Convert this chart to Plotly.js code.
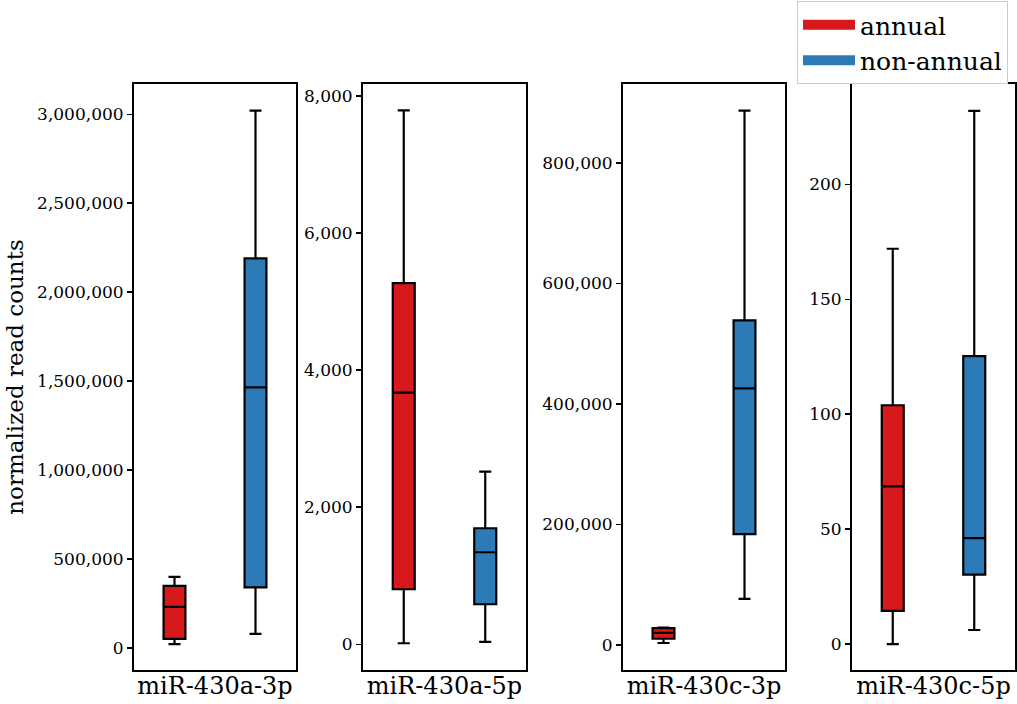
<!DOCTYPE html>
<html>
<head>
<meta charset="utf-8">
<script src="https://cdn.plot.ly/plotly-3.0.1.min.js"></script>
<style>html,body{margin:0;padding:0;background:#fff}#chart{width:1017px;height:704px}</style>
</head>
<body>
<div id="chart"></div>
<script>
// ---- data ----
const mirnas = ["miR-430a-3p", "miR-430a-5p", "miR-430c-3p", "miR-430c-5p"];
const groups = ["annual", "non-annual"];
const colors = ["#d7191c", "#2c7bb6"];

// five-number summaries per miRNA: [annual, non-annual]
const lowerWhisker = [[22000, 80000], [15, 34], [3300, 76700], [0, 6.1]];
const q1Values     = [[52000, 341000], [803, 584], [10400, 184000], [14.4, 30.2]];
const medianValues = [[232000, 1465000], [3673, 1343], [20000, 426000], [68.6, 46.1]];
const q3Values     = [[350000, 2190000], [5270, 1693], [28000, 538700], [103.9, 125.3]];
const upperWhisker = [[400000, 3020000], [7790, 2520], [29000, 886800], [172, 232]];

const yRanges = [[-123000, 3170000], [-375, 8175], [-41500, 931000], [-11.3, 243.7]];
const yDticks = [500000, 2000, 200000, 50];

// ---- layout geometry ----
const W = 1017, H = 704;
const xDomainsPx = [[134, 296], [363, 526], [623, 785], [852, 1015]];
const yDomain = [1 - 670 / H, 1 - 84 / H];
const FONT = "DejaVu Serif";

const traces = [];
mirnas.forEach((m, i) => {
  const xa = i === 0 ? "x" : "x" + (i + 1);
  const ya = i === 0 ? "y" : "y" + (i + 1);
  groups.forEach((g, j) => {
    traces.push({
      type: "box",
      name: g,
      x: [j],
      q1: [q1Values[i][j]],
      median: [medianValues[i][j]],
      q3: [q3Values[i][j]],
      lowerfence: [lowerWhisker[i][j]],
      upperfence: [upperWhisker[i][j]],
      width: 0.27,
      whiskerwidth: 0.55,
      fillcolor: colors[j],
      line: {color: "#000", width: 2.2},
      boxpoints: false,
      showlegend: false,
      hoverinfo: "skip",
      xaxis: xa,
      yaxis: ya
    });
  });
});
// legend entries
groups.forEach((g, j) => {
  traces.push({
    type: "scatter", mode: "lines", name: g,
    x: [null], y: [null],
    line: {color: colors[j], width: 12},
    showlegend: true, hoverinfo: "skip",
    xaxis: "x", yaxis: "y"
  });
});

const layout = {
  width: W, height: H,
  margin: {l: 0, r: 0, t: 0, b: 0},
  paper_bgcolor: "#fff", plot_bgcolor: "#fff",
  font: {family: FONT, color: "#000", size: 17},
  showlegend: true,
  legend: {
    x: 797 / W, y: 1 - 1 / H, xanchor: "left", yanchor: "top",
    bordercolor: "#cccccc", borderwidth: 1,
    font: {family: FONT, size: 25, color: "#000"},
    itemwidth: 52, tracegroupgap: 0
  }
};

mirnas.forEach((m, i) => {
  const sfx = i === 0 ? "" : String(i + 1);
  layout["xaxis" + sfx] = {
    domain: [xDomainsPx[i][0] / W, xDomainsPx[i][1] / W],
    anchor: "y" + sfx,
    range: [-0.5, 1.5],
    showticklabels: false, ticks: "", showgrid: false, zeroline: false,
    showline: true, linecolor: "#000", linewidth: 2, mirror: true,
    fixedrange: true,
    title: {text: m, font: {family: FONT, size: 24, color: "#000"}, standoff: 6}
  };
  layout["yaxis" + sfx] = {
    domain: yDomain,
    anchor: "x" + sfx,
    range: yRanges[i],
    dtick: yDticks[i], tick0: 0,
    tickformat: ",d",
    ticks: "outside", ticklen: 5, tickwidth: 1.5, tickcolor: "#000",
    showgrid: false, zeroline: false,
    showline: true, linecolor: "#000", linewidth: 2, mirror: true,
    tickfont: {family: FONT, size: 17, color: "#000"},
    fixedrange: true
  };
});
layout.yaxis.title = {text: "normalized read counts", font: {family: FONT, size: 23, color: "#000"}, standoff: 7};

Plotly.newPlot("chart", traces, layout, {displayModeBar: false, staticPlot: true});
</script>
</body>
</html>
